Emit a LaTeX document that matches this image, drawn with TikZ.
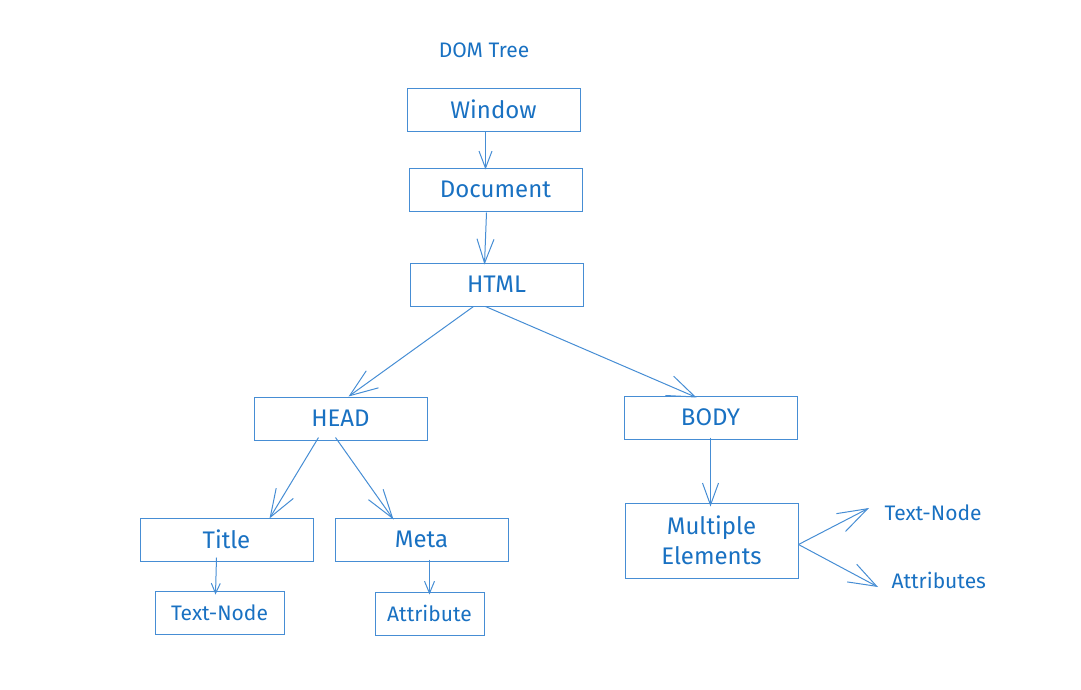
\documentclass[tikz,border=0pt]{standalone}
\usepackage{fontspec}
\setmainfont{Fira Sans}
\usetikzlibrary{arrows.meta}
\definecolor{inkblue}{RGB}{25,113,194}
\definecolor{lineblue}{RGB}{70,141,212}
\begin{document}
\begin{tikzpicture}[x=1pt, y=-1pt,
  every node/.style={text=inkblue, font=\fontsize{24}{30}\selectfont},
  box/.style={draw=lineblue, line width=1pt, rectangle, minimum width=173pt, minimum height=43pt, inner sep=0pt},
  smallbox/.style={draw=lineblue, line width=1pt, rectangle, minimum height=43pt, inner sep=0pt, font=\fontsize{21}{24}\selectfont},
  small/.style={font=\fontsize{21}{24}\selectfont},
  link/.style 2 args={draw=lineblue, line width=1pt, -{Straight Barb[length=#1pt, width=#2pt, line width=1pt]}}]
\useasboundingbox (0,0) rectangle (1081,689);

% Title
\node[small] (title) at (484,50) {DOM Tree};

% Tree - top down
\node[box] (win) at (493.5,109.5) {Window};
\node[box] (doc) at (495.5,189.5) {Document};
\node[box] (html) at (496.5,284.5) {HTML};
\node[box] (head) at (340.5,418.5) {HEAD};
\node[box] (body) at (710.5,417.5) {BODY};
\node[box] (ttl) at (226.5,539.5) {Title};
\node[box] (meta) at (421.5,539.5) {Meta};
\node[box, minimum height=75pt, align=center] (multi) at (711.5,540.5) {Multiple\\Elements};

% Leaves
\node[smallbox, minimum width=129pt] (ttltext) at (219.5,612.5) {Text-Node};
\node[smallbox, minimum width=109pt] (metaattr) at (429.5,613.5) {Attribute};
\node[small, anchor=west] (multitext) at (881,513) {Text-Node};
\node[small, anchor=west] (multiattr) at (888,580) {Attributes};

% Arrows
\draw[link={17}{13}] ([xshift=-8pt]win.south) -- ([xshift=-10pt, yshift=-2pt]doc.north);
\draw[link={24}{17}] ([xshift=-9pt, yshift=-1pt]doc.south) -- ([xshift=-12pt, yshift=-2pt]html.north);
\draw[link={28}{21}] ([xshift=-23pt]html.south) -- ([xshift=8pt]head.north);
\draw[link={28}{21}] ([xshift=-11pt]html.south) -- ([xshift=-14pt, yshift=-2pt]body.north);
\draw[link={28}{20}] ([xshift=-22pt, yshift=3pt]head.south) -- ([xshift=43pt, yshift=-1pt]ttl.north);
\draw[link={29}{18}] ([xshift=-5pt, yshift=3pt]head.south) -- ([xshift=-28pt, yshift=-2pt]meta.north);
\draw[link={22}{16}] ([yshift=2pt]body.south) -- ([xshift=-1pt, yshift=-4pt]multi.north);
\draw[link={10}{9}] ([xshift=-10pt, yshift=4pt]ttl.south) -- ([xshift=-4pt, yshift=-4pt]ttltext.north);
\draw[link={12}{10}] ([xshift=8pt, yshift=2pt]meta.south) -- ([yshift=-3pt]metaattr.north);
\draw[link={30}{20}] ([yshift=-4pt]multi.east) -- ([xshift=-12pt, yshift=5pt]multitext.west);
\draw[link={28}{20}] ([yshift=-4pt]multi.east) -- ([xshift=-10pt, yshift=-7pt]multiattr.west);
\end{tikzpicture}
\end{document}
